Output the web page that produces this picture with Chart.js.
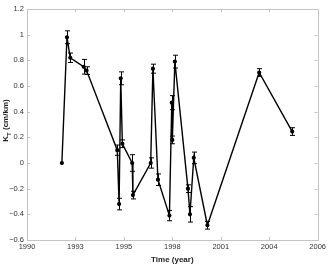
<!DOCTYPE html>
<html>
<head>
<meta charset="utf-8">
<script src="https://cdn.jsdelivr.net/npm/chart.js@4.4.0/dist/chart.umd.min.js"></script>
<style>
  html, body { margin: 0; padding: 0; background: #fff; }
  #wrap { width: 328px; height: 267px; position: relative; }
</style>
</head>
<body>
<div id="wrap"><canvas id="chartCanvas" width="328" height="267"></canvas></div>
<script>
// data
const years = [1991.92, 1992.2, 1992.38, 1993.12, 1993.28, 1994.97, 1995.07, 1995.16, 1995.25,
    1995.79, 1995.83, 1996.81, 1996.93, 1997.21, 1997.84, 1997.97, 1998.0, 1998.14,
    1998.86, 1998.97, 1999.18, 1999.93, 2002.78, 2004.6];
const kt = [0, 0.98, 0.82, 0.75, 0.72, 0.10, -0.32, 0.66, 0.15,
    0.0, -0.25, 0.0, 0.735, -0.13, -0.41, 0.47, 0.18, 0.79,
    -0.20, -0.40, 0.04, -0.485, 0.705, 0.245];
const errs = [0, 0.05, 0.037, 0.057, 0.03, 0.04, 0.045, 0.05, 0.03,
    0.065, 0.03, 0.04, 0.035, 0.045, 0.04, 0.055, 0.03, 0.05,
    0.03, 0.06, 0.045, 0.03, 0.03, 0.03];
const xTickLabels = ['1990', '1993', '1995', '1998', '2001', '2004', '2006'];
const yTickValues = [-0.6, -0.4, -0.2, 0, 0.2, 0.4, 0.6, 0.8, 1, 1.2];

const xMin = 1990, xMax = 2006;
const tickFont = { family: 'Arial, "Liberation Sans", Helvetica', size: 7.5 };
const frameColor = '#c4c4c4';

// error bars drawn from the scales
const errorBars = {
    id: 'errorBars',
    afterDatasetsDraw(chart) {
        const { ctx, scales: { x, y } } = chart;
        ctx.save();
        ctx.strokeStyle = '#000';
        ctx.lineWidth = 1;
        years.forEach((yr, i) => {
            if (!errs[i]) return;
            const px = Math.round(x.getPixelForValue(yr)) + 0.5;
            const top = y.getPixelForValue(kt[i] + errs[i]);
            const bot = y.getPixelForValue(kt[i] - errs[i]);
            ctx.beginPath();
            ctx.moveTo(px, top); ctx.lineTo(px, bot);
            ctx.moveTo(px - 2.5, top); ctx.lineTo(px + 2.5, top);
            ctx.moveTo(px - 2.5, bot); ctx.lineTo(px + 2.5, bot);
            ctx.stroke();
        });
        ctx.restore();
    }
};

// matlab style box with inward ticks, plus y title with subscript
const axesBox = {
    id: 'axesBox',
    afterDraw(chart) {
        const { ctx, chartArea: a, scales: { x, y } } = chart;
        ctx.save();
        ctx.strokeStyle = frameColor;
        ctx.lineWidth = 1;
        ctx.strokeRect(Math.round(a.left) + 0.5, Math.round(a.top) + 0.5,
            Math.round(a.right - a.left), Math.round(a.bottom - a.top));
        ctx.beginPath();
        x.ticks.forEach(t => {
            const px = Math.round(x.getPixelForValue(t.value)) + 0.5;
            ctx.moveTo(px, a.bottom); ctx.lineTo(px, a.bottom - 3);
            ctx.moveTo(px, a.top); ctx.lineTo(px, a.top + 3);
        });
        y.ticks.forEach(t => {
            const py = Math.round(y.getPixelForValue(t.value)) + 0.5;
            ctx.moveTo(a.left, py); ctx.lineTo(a.left + 3, py);
            ctx.moveTo(a.right, py); ctx.lineTo(a.right - 3, py);
        });
        ctx.stroke();

        // y axis title: K_T (cm/km)
        const cy = (a.top + a.bottom) / 2 - 4;
        ctx.translate(8, cy);
        ctx.rotate(-Math.PI / 2);
        ctx.fillStyle = '#222';
        ctx.textBaseline = 'alphabetic';
        const big = 'bold 8px Arial, "Liberation Sans"';
        const small = 'bold 6px Arial, "Liberation Sans"';
        ctx.font = big;
        const wK = ctx.measureText('K').width;
        const wRest = ctx.measureText(' (cm/km)').width;
        ctx.font = small;
        const wT = ctx.measureText('T').width;
        let sx = -(wK + wT + wRest) / 2;
        ctx.font = big;
        ctx.fillText('K', sx, 0);
        sx += wK;
        ctx.font = small;
        ctx.fillText('T', sx, 2.5);
        sx += wT;
        ctx.font = big;
        ctx.fillText(' (cm/km)', sx, 0);
        ctx.restore();
    }
};

const ctx = document.getElementById('chartCanvas').getContext('2d');
new Chart(ctx, {
    type: 'line',
    data: {
        datasets: [{
            data: years.map((yr, i) => ({ x: yr, y: kt[i] })),
            borderColor: '#000',
            backgroundColor: '#000',
            borderWidth: 1.4,
            pointRadius: 1.4,
            pointHoverRadius: 1.4,
            tension: 0
        }]
    },
    options: {
        responsive: false,
        animation: false,
        events: [],
        layout: { padding: { top: 9, right: 7, left: 0, bottom: 0 } },
        plugins: { legend: { display: false }, tooltip: { enabled: false } },
        scales: {
            x: {
                type: 'linear',
                min: xMin,
                max: xMax,
                afterBuildTicks: scale => {
                    const n = xTickLabels.length - 1;
                    scale.ticks = xTickLabels.map((_, i) => ({ value: xMin + i * (xMax - xMin) / n }));
                },
                afterFit: scale => { scale.height = 27; },
                grid: { display: false, drawTicks: false },
                border: { display: false },
                ticks: {
                    autoSkip: false,
                    maxRotation: 0,
                    padding: 2,
                    color: '#333',
                    font: tickFont,
                    callback: (v, i) => xTickLabels[i]
                },
                title: {
                    display: true,
                    text: 'Time (year)',
                    color: '#222',
                    font: { family: 'Arial, "Liberation Sans"', size: 8, weight: 'bold' },
                    padding: { top: 4, bottom: 2 }
                }
            },
            y: {
                min: -0.6,
                max: 1.2,
                afterBuildTicks: scale => {
                    scale.ticks = yTickValues.map(v => ({ value: v }));
                },
                afterFit: scale => { scale.width = 27; },
                grid: { display: false, drawTicks: false },
                border: { display: false },
                ticks: {
                    padding: 3,
                    color: '#333',
                    font: tickFont,
                    callback: v => String(Math.round(v * 10) / 10).replace('-', '\u2212')
                }
            }
        }
    },
    plugins: [errorBars, axesBox]
});
</script>
</body>
</html>
